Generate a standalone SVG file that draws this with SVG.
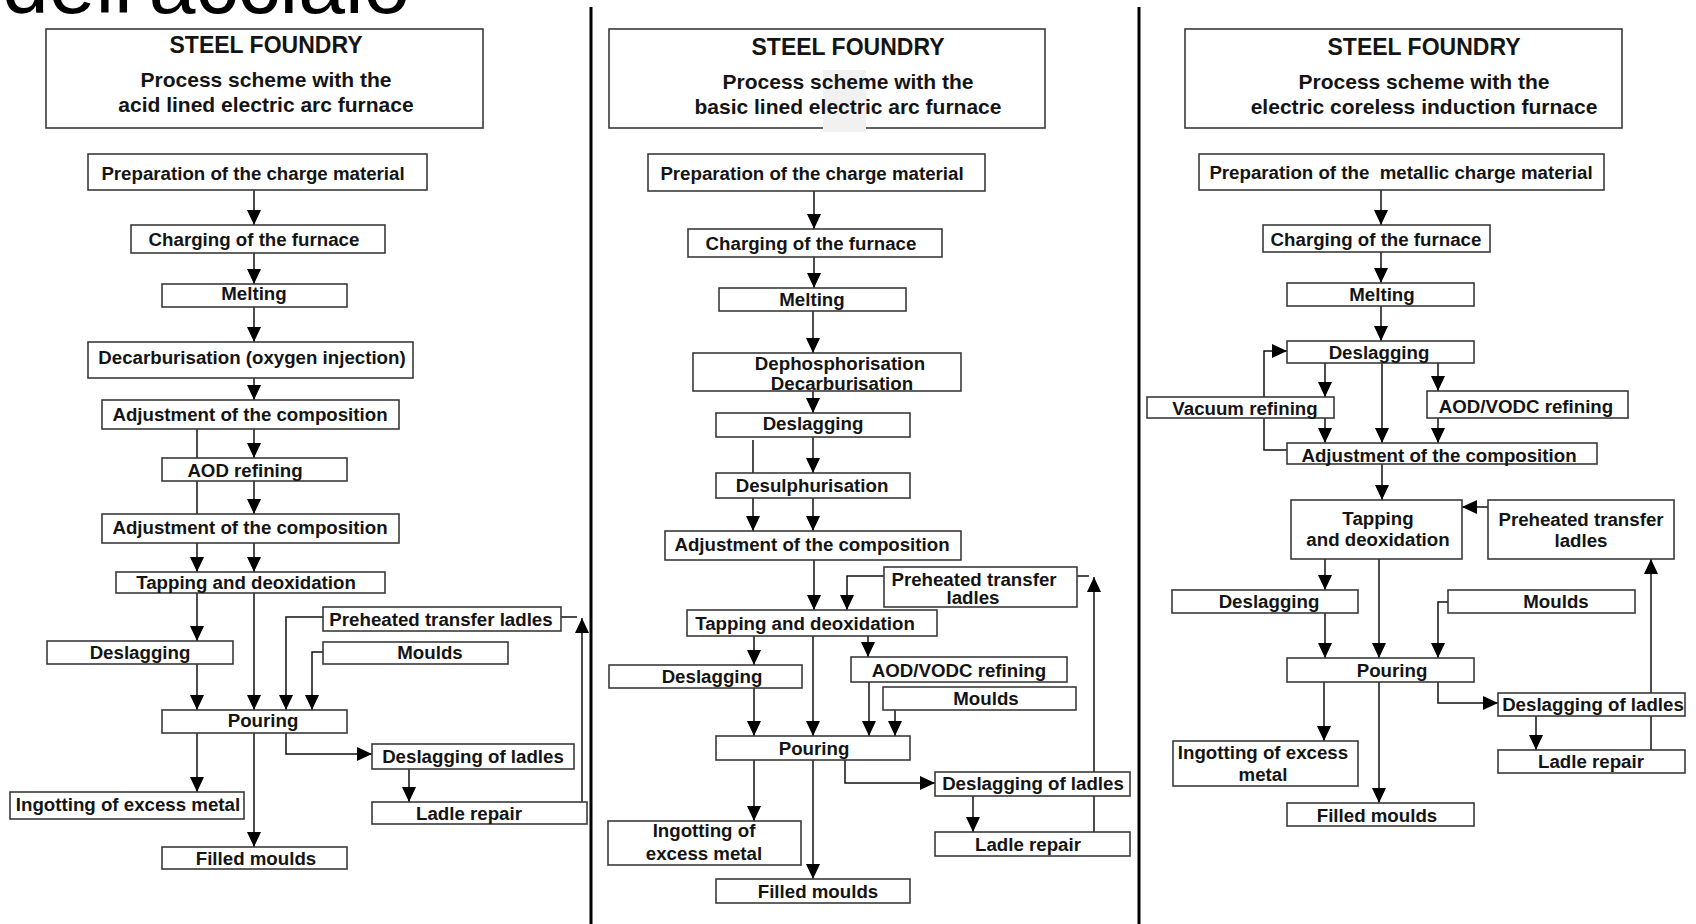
<svg xmlns="http://www.w3.org/2000/svg" width="1696" height="924" viewBox="0 0 1696 924">
<style>
.bg{fill:#fff}
.box{fill:#fff;stroke:#3a3a3a;stroke-width:1.6}
.t{font-family:"Liberation Sans",Arial,sans-serif;font-weight:bold;fill:#141414;text-anchor:middle}
.lbl{font-size:18.7px}
.ttl{font-size:23px}
.sub{font-size:21px}
.ln{fill:none;stroke:#111;stroke-width:1.5}
.ar{marker-end:url(#ah)}
.div{stroke:#000;stroke-width:3}
</style>
<defs>
<marker id="ah" markerUnits="userSpaceOnUse" markerWidth="15" markerHeight="14" refX="15" refY="7" orient="auto">
<path d="M0,0 L15,7 L0,14 Z" fill="#000"/>
</marker>
</defs>
<rect class="bg" x="0" y="0" width="1696" height="924"/>
<text x="2" y="13" font-family="'Liberation Sans',Arial,sans-serif" font-size="84" fill="#000">dell'acciaio</text>
<g id="dividers">
<line class="div" x1="591" y1="7" x2="591" y2="924"/>
<line class="div" x1="1139" y1="7" x2="1139" y2="924"/>
</g>
<g id="connectors">
<!-- panel 1 -->
<path class="ln ar" d="M254,190 V225"/>
<path class="ln ar" d="M254,252 V284"/>
<path class="ln ar" d="M254,307 V342"/>
<path class="ln ar" d="M254,378 V400"/>
<path class="ln ar" d="M254,429 V458"/>
<path class="ln ar" d="M254,481 V514"/>
<path class="ln" d="M197,429 V514"/>
<path class="ln ar" d="M197,543 V572"/>
<path class="ln ar" d="M254,543 V572"/>
<path class="ln ar" d="M197,593 V641"/>
<path class="ln ar" d="M197,664 V710"/>
<path class="ln ar" d="M254,593 V710"/>
<path class="ln ar" d="M323,617 H286 V710"/>
<path class="ln ar" d="M323,652 H312 V710"/>
<path class="ln ar" d="M197,733 V792"/>
<path class="ln ar" d="M254,733 V847"/>
<path class="ln ar" d="M286,733 V754 H372"/>
<path class="ln ar" d="M409,769 V802"/>
<path class="ln ar" d="M582,802 V618"/>
<path class="ln" d="M561,617 H577"/>
<!-- panel 2 -->
<path class="ln ar" d="M814,191 V229"/>
<path class="ln ar" d="M814,257 V288"/>
<path class="ln ar" d="M813,311 V353"/>
<path class="ln ar" d="M813,391 V413"/>
<path class="ln ar" d="M813,437 V473"/>
<path class="ln" d="M753,440 V473"/>
<path class="ln ar" d="M753,498 V531"/>
<path class="ln ar" d="M813,498 V531"/>
<path class="ln ar" d="M814,560 V610"/>
<path class="ln ar" d="M884,576 H847 V610"/>
<path class="ln" d="M1077,576 H1089"/>
<path class="ln ar" d="M1094,832 V577"/>
<path class="ln ar" d="M754,636 V665"/>
<path class="ln ar" d="M868,636 V657"/>
<path class="ln ar" d="M813,636 V736"/>
<path class="ln ar" d="M754,688 V736"/>
<path class="ln ar" d="M869,682 V736"/>
<path class="ln ar" d="M895,710 V736"/>
<path class="ln ar" d="M754,760 V821"/>
<path class="ln ar" d="M813,760 V879"/>
<path class="ln ar" d="M845,760 V783 H935"/>
<path class="ln ar" d="M973,796 V832"/>
<!-- panel 3 -->
<path class="ln ar" d="M1381,190 V225"/>
<path class="ln ar" d="M1381,252 V283"/>
<path class="ln ar" d="M1381,306 V341"/>
<path class="ln ar" d="M1287,450 H1264 V351 H1287"/>
<path class="ln ar" d="M1325,363 V397"/>
<path class="ln ar" d="M1382,363 V443"/>
<path class="ln ar" d="M1438,363 V391"/>
<path class="ln ar" d="M1325,418 V443"/>
<path class="ln ar" d="M1438,418 V443"/>
<path class="ln ar" d="M1382,464 V500"/>
<path class="ln ar" d="M1488,507 H1462"/>
<path class="ln ar" d="M1325,559 V590"/>
<path class="ln ar" d="M1379,559 V658"/>
<path class="ln ar" d="M1325,613 V658"/>
<path class="ln ar" d="M1448,602 H1438 V658"/>
<path class="ln ar" d="M1324,682 V741"/>
<path class="ln ar" d="M1379,682 V803"/>
<path class="ln ar" d="M1438,682 V703 H1498"/>
<path class="ln ar" d="M1536,716 V750"/>
<path class="ln ar" d="M1651,750 V559"/>
</g>
<!-- Panel 1 nodes -->
<g id="p1-header"><rect class="box" x="46" y="29" width="437" height="99"/>
<text class="t ttl" x="266" y="53">STEEL FOUNDRY</text>
<text class="t sub" x="266" y="87">Process scheme with the</text>
<text class="t sub" x="266" y="112">acid lined electric arc furnace</text></g>
<g id="p1-prep"><rect class="box" x="88" y="154" width="339" height="36"/><text class="t lbl" x="253" y="180">Preparation of the charge material</text></g>
<g id="p1-charging"><rect class="box" x="131" y="225" width="254" height="28"/><text class="t lbl" x="254" y="246">Charging of the furnace</text></g>
<g id="p1-melting"><rect class="box" x="162" y="284" width="185" height="23"/><text class="t lbl" x="254" y="300">Melting</text></g>
<g id="p1-decarb"><rect class="box" x="88" y="342" width="325" height="36"/><text class="t lbl" x="252" y="364">Decarburisation (oxygen injection)</text></g>
<g id="p1-adj1"><rect class="box" x="102" y="400" width="297" height="29"/><text class="t lbl" x="250" y="421">Adjustment of the composition</text></g>
<g id="p1-aod"><rect class="box" x="162" y="458" width="185" height="23"/><text class="t lbl" x="245" y="477">AOD refining</text></g>
<g id="p1-adj2"><rect class="box" x="102" y="514" width="297" height="29"/><text class="t lbl" x="250" y="534">Adjustment of the composition</text></g>
<g id="p1-tapping"><rect class="box" x="116" y="572" width="269" height="21"/><text class="t lbl" x="246" y="589">Tapping and deoxidation</text></g>
<g id="p1-preheated"><rect class="box" x="323" y="607" width="238" height="24"/><text class="t lbl" x="441" y="626">Preheated transfer ladles</text></g>
<g id="p1-deslagging"><rect class="box" x="47" y="641" width="186" height="23"/><text class="t lbl" x="140" y="659">Deslagging</text></g>
<g id="p1-moulds"><rect class="box" x="323" y="642" width="185" height="22"/><text class="t lbl" x="430" y="659">Moulds</text></g>
<g id="p1-pouring"><rect class="box" x="162" y="710" width="185" height="23"/><text class="t lbl" x="263" y="727">Pouring</text></g>
<g id="p1-deslag-ladles"><rect class="box" x="372" y="744" width="202" height="25"/><text class="t lbl" x="473" y="763">Deslagging of ladles</text></g>
<g id="p1-ingotting"><rect class="box" x="10" y="792" width="234" height="27"/><text class="t lbl" x="128" y="811">Ingotting of excess metal</text></g>
<g id="p1-ladle-repair"><rect class="box" x="372" y="802" width="215" height="22"/><text class="t lbl" x="469" y="820">Ladle repair</text></g>
<g id="p1-filled"><rect class="box" x="162" y="847" width="185" height="22"/><text class="t lbl" x="256" y="865">Filled moulds</text></g>
<!-- Panel 2 nodes -->
<g id="p2-header"><rect class="box" x="609" y="29" width="436" height="99"/>
<rect x="823" y="70" width="43" height="62" fill="#f1f1f1"/>
<text class="t ttl" x="848" y="55">STEEL FOUNDRY</text>
<text class="t sub" x="848" y="89">Process scheme with the</text>
<text class="t sub" x="848" y="114">basic lined electric arc furnace</text></g>
<g id="p2-prep"><rect class="box" x="648" y="154" width="337" height="37"/><text class="t lbl" x="812" y="180">Preparation of the charge material</text></g>
<g id="p2-charging"><rect class="box" x="688" y="229" width="254" height="28"/><text class="t lbl" x="811" y="250">Charging of the furnace</text></g>
<g id="p2-melting"><rect class="box" x="719" y="288" width="187" height="23"/><text class="t lbl" x="812" y="306">Melting</text></g>
<g id="p2-dephos"><rect class="box" x="693" y="353" width="268" height="38"/><text class="t lbl" x="840" y="370">Dephosphorisation</text><text class="t lbl" x="842" y="390">Decarburisation</text></g>
<g id="p2-deslagging1"><rect class="box" x="716" y="413" width="194" height="24"/><text class="t lbl" x="813" y="430">Deslagging</text></g>
<g id="p2-desulph"><rect class="box" x="716" y="473" width="194" height="25"/><text class="t lbl" x="812" y="492">Desulphurisation</text></g>
<g id="p2-adj"><rect class="box" x="665" y="531" width="296" height="29"/><text class="t lbl" x="812" y="551">Adjustment of the composition</text></g>
<g id="p2-preheated"><rect class="box" x="884" y="567" width="193" height="40"/><text class="t lbl" x="974" y="586">Preheated transfer</text><text class="t lbl" x="973" y="604">ladles</text></g>
<g id="p2-tapping"><rect class="box" x="687" y="610" width="250" height="26"/><text class="t lbl" x="805" y="630">Tapping and deoxidation</text></g>
<g id="p2-deslagging2"><rect class="box" x="609" y="665" width="193" height="23"/><text class="t lbl" x="712" y="683">Deslagging</text></g>
<g id="p2-aod"><rect class="box" x="851" y="657" width="216" height="25"/><text class="t lbl" x="959" y="677">AOD/VODC refining</text></g>
<g id="p2-moulds"><rect class="box" x="883" y="687" width="193" height="23"/><text class="t lbl" x="986" y="705">Moulds</text></g>
<g id="p2-pouring"><rect class="box" x="716" y="736" width="194" height="24"/><text class="t lbl" x="814" y="755">Pouring</text></g>
<g id="p2-deslag-ladles"><rect class="box" x="935" y="772" width="195" height="24"/><text class="t lbl" x="1033" y="790">Deslagging of ladles</text></g>
<g id="p2-ingotting"><rect class="box" x="608" y="821" width="193" height="44"/><text class="t lbl" x="704" y="837">Ingotting of</text><text class="t lbl" x="704" y="860">excess metal</text></g>
<g id="p2-ladle-repair"><rect class="box" x="935" y="832" width="195" height="24"/><text class="t lbl" x="1028" y="851">Ladle repair</text></g>
<g id="p2-filled"><rect class="box" x="716" y="879" width="194" height="24"/><text class="t lbl" x="818" y="898">Filled moulds</text></g>
<!-- Panel 3 nodes -->
<g id="p3-header"><rect class="box" x="1185" y="29" width="437" height="99"/>
<text class="t ttl" x="1424" y="55">STEEL FOUNDRY</text>
<text class="t sub" x="1424" y="89">Process scheme with the</text>
<text class="t sub" x="1424" y="114">electric coreless induction furnace</text></g>
<g id="p3-prep"><rect class="box" x="1199" y="154" width="405" height="36"/><text class="t lbl" x="1401" y="179" xml:space="preserve">Preparation of the  metallic charge material</text></g>
<g id="p3-charging"><rect class="box" x="1263" y="225" width="227" height="27"/><text class="t lbl" x="1376" y="246">Charging of the furnace</text></g>
<g id="p3-melting"><rect class="box" x="1287" y="283" width="187" height="23"/><text class="t lbl" x="1382" y="301">Melting</text></g>
<g id="p3-deslagging1"><rect class="box" x="1287" y="341" width="187" height="22"/><text class="t lbl" x="1379" y="359">Deslagging</text></g>
<g id="p3-vacuum"><rect class="box" x="1147" y="397" width="187" height="21"/><text class="t lbl" x="1245" y="415">Vacuum refining</text></g>
<g id="p3-aod"><rect class="box" x="1427" y="391" width="201" height="27"/><text class="t lbl" x="1526" y="413">AOD/VODC refining</text></g>
<g id="p3-adj"><rect class="box" x="1287" y="443" width="310" height="21"/><text class="t lbl" x="1439" y="462">Adjustment of the composition</text></g>
<g id="p3-tapping"><rect class="box" x="1291" y="500" width="171" height="59"/><text class="t lbl" x="1378" y="525">Tapping</text><text class="t lbl" x="1378" y="546">and deoxidation</text></g>
<g id="p3-preheated"><rect class="box" x="1488" y="500" width="186" height="59"/><text class="t lbl" x="1581" y="526">Preheated transfer</text><text class="t lbl" x="1581" y="547">ladles</text></g>
<g id="p3-deslagging2"><rect class="box" x="1172" y="590" width="186" height="23"/><text class="t lbl" x="1269" y="608">Deslagging</text></g>
<g id="p3-moulds"><rect class="box" x="1448" y="590" width="187" height="23"/><text class="t lbl" x="1556" y="608">Moulds</text></g>
<g id="p3-pouring"><rect class="box" x="1287" y="658" width="187" height="24"/><text class="t lbl" x="1392" y="677">Pouring</text></g>
<g id="p3-deslag-ladles"><rect class="box" x="1498" y="693" width="187" height="23"/><text class="t lbl" x="1593" y="711">Deslagging of ladles</text></g>
<g id="p3-ingotting"><rect class="box" x="1173" y="741" width="185" height="45"/><text class="t lbl" x="1263" y="759">Ingotting of excess</text><text class="t lbl" x="1263" y="781">metal</text></g>
<g id="p3-ladle-repair"><rect class="box" x="1498" y="750" width="187" height="23"/><text class="t lbl" x="1591" y="768">Ladle repair</text></g>
<g id="p3-filled"><rect class="box" x="1287" y="803" width="187" height="23"/><text class="t lbl" x="1377" y="822">Filled moulds</text></g>
</svg>
